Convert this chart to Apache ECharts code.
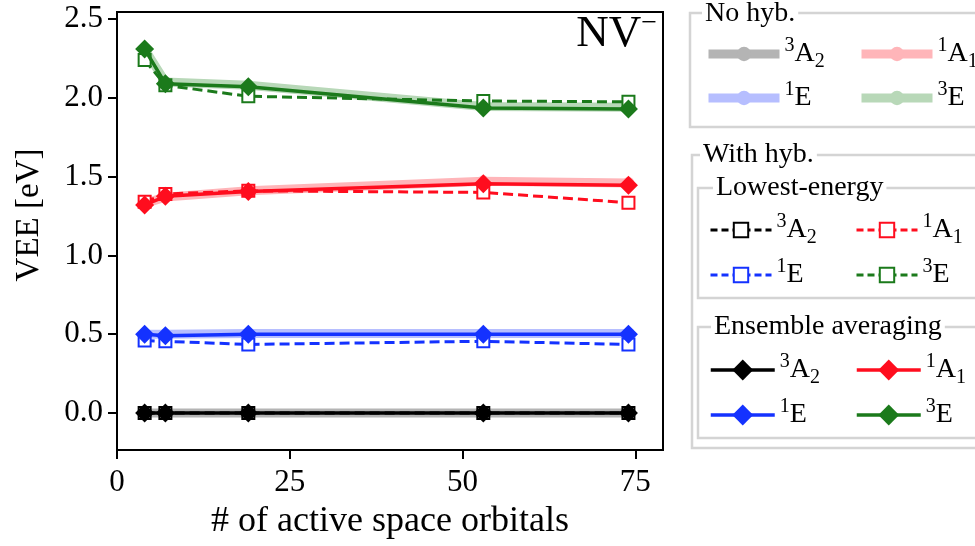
<!DOCTYPE html>
<html>
<head>
<meta charset="utf-8">
<script src="https://cdn.jsdelivr.net/npm/echarts@6/dist/echarts.min.js"></script>
<style>
  html, body { margin: 0; padding: 0; background: #fff; }
  #chart { width: 975px; height: 546px; }
</style>
</head>
<body>
<div id="chart"></div>
<script>
// Number of active space orbitals for each calculation
const orbitals = [4, 7, 19, 53, 74];

// State labels: superscript multiplicity, symbol, subscript
const stateKeys = ['3A2', '1A1', '1E', '3E'];
const stateSup = ['3', '1', '1', '3'];
const stateSym = ['A', 'A', 'E', 'E'];
const stateSub = ['2', '1', '', ''];

// Vertical excitation energies [eV] without hybridization
const noHyb3A2 = [0, 0, 0, 0, 0];
const noHyb1A1 = [1.33, 1.37, 1.41, 1.47, 1.46];
const noHyb1E = [0.50, 0.50, 0.505, 0.505, 0.505];
const noHyb3E = [2.31, 2.10, 2.08, 1.945, 1.94];

// With hybridization, lowest-energy solution
const low3A2 = [0, 0, 0, 0, 0];
const low1A1 = [1.34, 1.39, 1.41, 1.40, 1.335];
const low1E = [0.46, 0.455, 0.435, 0.455, 0.435];
const low3E = [2.24, 2.08, 2.01, 1.98, 1.975];

// With hybridization, ensemble averaging
const ens3A2 = [0, 0, 0, 0, 0];
const ens1A1 = [1.32, 1.375, 1.405, 1.455, 1.445];
const ens1E = [0.50, 0.49, 0.50, 0.50, 0.50];
const ens3E = [2.31, 2.09, 2.07, 1.935, 1.93];

// Axis ticks
const xTicks = [0, 25, 50, 75];
const yTicks = [0, 0.5, 1.0, 1.5, 2.0, 2.5];

const FONT = 'Liberation Serif';
const strong = { '3A2': '#000000', '1A1': '#ff0d1e', '1E': '#1432ff', '3E': '#1b7a1b' };
const light = { '3A2': '#b4b4b4', '1A1': '#ffb5b9', '1E': '#b6beff', '3E': '#b8d8b8' };

const noHyb = { '3A2': noHyb3A2, '1A1': noHyb1A1, '1E': noHyb1E, '3E': noHyb3E };
const low = { '3A2': low3A2, '1A1': low1A1, '1E': low1E, '3E': low3E };
const ens = { '3A2': ens3A2, '1A1': ens1A1, '1E': ens1E, '3E': ens3E };

const pairs = vals => orbitals.map((x, i) => [x, vals[i]]);

const BAND_W = 9, DASH_W = 3, SOLID_W = 3.5;

const series = [];
stateKeys.forEach(k => {
  series.push({
    name: 'nohyb|' + k, type: 'line', z: 2, data: pairs(noHyb[k]),
    symbol: 'circle', symbolSize: 12,
    itemStyle: { color: light[k] },
    lineStyle: { color: light[k], width: BAND_W },
    emphasis: { disabled: true }
  });
});
stateKeys.forEach(k => {
  series.push({
    name: 'low|' + k, type: 'line', z: 3, data: pairs(low[k]),
    symbol: 'rect', symbolSize: 12,
    itemStyle: { color: '#ffffff', borderColor: strong[k], borderWidth: 2 },
    lineStyle: { color: strong[k], width: DASH_W, type: [10, 5] },
    emphasis: { disabled: true }
  });
});
stateKeys.forEach(k => {
  series.push({
    name: 'ens|' + k, type: 'line', z: 4, data: pairs(ens[k]),
    symbol: 'diamond', symbolSize: 19,
    itemStyle: { color: strong[k] },
    lineStyle: { color: strong[k], width: SOLID_W },
    emphasis: { disabled: true }
  });
});

const rich = {
  b: { fontFamily: FONT, fontSize: 28, lineHeight: 36, color: '#000' },
  sup: { fontFamily: FONT, fontSize: 20, lineHeight: 22, verticalAlign: 'top', color: '#000' },
  sub: { fontFamily: FONT, fontSize: 20, lineHeight: 20, verticalAlign: 'bottom', color: '#000' }
};

function stateLabel(name) {
  const i = stateKeys.indexOf(name.split('|')[1]);
  let s = '{sup|' + stateSup[i] + '}{b|' + stateSym[i] + '}';
  if (stateSub[i]) s += '{sub|' + stateSub[i] + '}';
  return s;
}

// one legend component per entry so the entries sit in a 2x2 block
function legendEntry(name, left, cy, w, h, extra) {
  return Object.assign({
    show: true, data: [name], left: left, top: cy - 18,
    itemWidth: w, itemHeight: h, padding: 0, itemGap: 0,
    selectedMode: false, formatter: stateLabel,
    textStyle: { fontFamily: FONT, fontSize: 28, color: '#000', rich: rich }
  }, extra || {});
}

const legends = [];
stateKeys.forEach((k, i) => {
  const c = i % 2, r = Math.floor(i / 2);
  legends.push(legendEntry('nohyb|' + k, [704, 857][c], [54, 98][r], 71, 18, {
    itemStyle: { color: light[k] },
    lineStyle: { color: light[k], width: BAND_W }
  }));
  legends.push(legendEntry('low|' + k, [709, 855][c], [230, 275][r], 61, 18, {
    itemStyle: { color: '#ffffff', borderColor: strong[k], borderWidth: 2 },
    lineStyle: { color: strong[k], width: DASH_W, type: [7, 4] }
  }));
  legends.push(legendEntry('ens|' + k, [709, 855][c], [370, 415][r], 64, 26, {
    itemStyle: { color: strong[k] },
    lineStyle: { color: strong[k], width: SOLID_W }
  }));
});

const boxStyle = { fill: 'transparent', stroke: '#d4d4d4', lineWidth: 2.5 };
function box(x, y, w, h) {
  return { type: 'rect', shape: { x: x, y: y, width: w, height: h }, style: boxStyle, silent: true, z: 1 };
}
function boxTitle(text, x, cy) {
  return {
    type: 'text', x: x, y: cy, silent: true, z: 2,
    style: {
      text: text, fontFamily: FONT, fontSize: 28, fill: '#000',
      verticalAlign: 'middle', backgroundColor: '#fff', padding: [0, 3]
    }
  };
}

const option = {
  animation: false,
  backgroundColor: '#fff',
  grid: {
    left: 117, top: 12, width: 546, height: 438,
    show: true, borderColor: '#000', borderWidth: 2, backgroundColor: 'transparent'
  },
  xAxis: {
    type: 'value', min: 0, max: 79,
    name: '# of active space orbitals', nameLocation: 'middle', nameGap: 54,
    nameTextStyle: { fontFamily: FONT, fontSize: 36, color: '#000' },
    axisLine: { show: true, onZero: false, lineStyle: { color: '#000', width: 2 } },
    axisTick: { show: true, length: 9, lineStyle: { color: '#000', width: 2 }, customValues: xTicks },
    axisLabel: { fontFamily: FONT, fontSize: 31, color: '#000', margin: 17, customValues: xTicks },
    splitLine: { show: false }
  },
  yAxis: {
    type: 'value', min: -0.235, max: 2.545,
    name: 'VEE [eV]', nameLocation: 'middle', nameGap: 71, nameRotate: 90,
    nameTextStyle: { fontFamily: FONT, fontSize: 33, color: '#000', padding: [0, 0, 0, 32] },
    axisLine: { show: true, onZero: false, lineStyle: { color: '#000', width: 2 } },
    axisTick: { show: true, length: 9, lineStyle: { color: '#000', width: 2 }, customValues: yTicks },
    axisLabel: {
      fontFamily: FONT, fontSize: 31, color: '#000', margin: 14, customValues: yTicks,
      formatter: v => v.toFixed(1)
    },
    splitLine: { show: false }
  },
  legend: legends,
  series: series,
  graphic: [
    {
      type: 'text', right: 318, top: 10, silent: true,
      style: {
        text: '{n|NV}{s|−}', fontFamily: FONT,
        rich: {
          n: { fontFamily: FONT, fontSize: 45, lineHeight: 48, color: '#000' },
          s: { fontFamily: FONT, fontSize: 28, lineHeight: 30, verticalAlign: 'top', color: '#000' }
        }
      }
    },
    box(690, 13, 320, 114),
    boxTitle('No hyb.', 702, 14),
    box(692, 155, 320, 293),
    boxTitle('With hyb.', 700, 155),
    box(698, 188, 300, 110),
    boxTitle('Lowest-energy', 713, 188),
    box(698, 327, 300, 111),
    boxTitle('Ensemble averaging', 711, 327)
  ]
};

const chart = echarts.init(document.getElementById('chart'), null, { renderer: 'canvas' });
chart.setOption(option);
</script>
</body>
</html>
